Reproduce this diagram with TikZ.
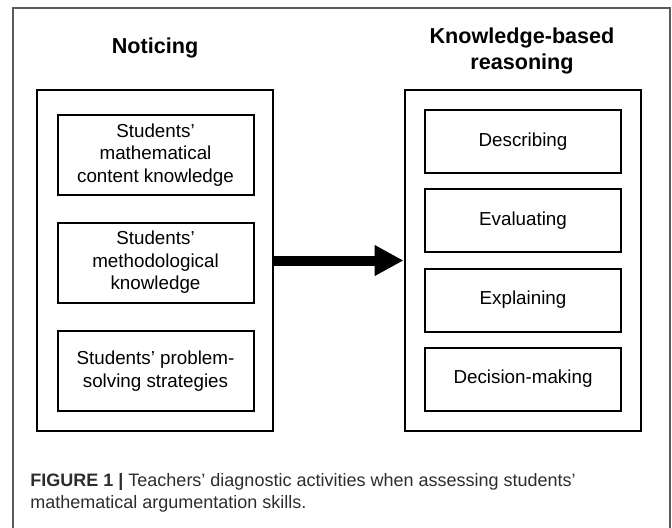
\documentclass[tikz,border=0pt]{standalone}
\usepackage{fontspec}
\setmainfont{Liberation Sans}
\usetikzlibrary{arrows.meta}

\definecolor{framegray}{RGB}{90,90,90}
\definecolor{captiongray}{RGB}{45,45,45}

\tikzset{
  outerbox/.style={draw, line width=1pt, minimum width=118pt, minimum height=170.5pt},
  itembox/.style={draw, line width=1pt, align=center, font=\fontsize{9.4}{11.3}\selectfont, minimum width=98pt, inner sep=1pt},
  heading/.style={align=center, font=\fontsize{10.8}{13}\selectfont\bfseries},
}

\begin{document}
\begin{tikzpicture}[x=0.5pt, y=-0.5pt]
			\useasboundingbox (0, 0) rectangle (672, 527);
			\draw[framegray, line width=0.75pt] (13, 540) -- (13, 8) -- (670, 8) -- (670, 540);
			
			\node[heading] (head1) at (155, 48) {Noticing};
			\node[heading] (head2) at (522, 51) {Knowledge-based\\reasoning};
			
			\node[outerbox] (noticing) at (155, 260.5) {};
			\node[outerbox] (reasoning) at (522.5, 260.5) {};
			
			\node[itembox, minimum height=40pt] (content) at (155.5, 155) {Students'\\mathematical\\content knowledge};
			\node[itembox, minimum height=40pt] (method) at (155.5, 262.5) {Students'\\methodological\\knowledge};
			\node[itembox, minimum height=40pt] (strategy) at (155.5, 371) {Students' problem-\\solving strategies};
			
			\node[itembox, minimum height=31.5pt] (describe) at (523, 141.5) {Describing};
			\node[itembox, minimum height=31.5pt] (evaluate) at (523, 220.5) {Evaluating};
			\node[itembox, minimum height=31.5pt] (explain) at (523, 300) {Explaining};
			\node[itembox, minimum height=31.5pt] (decide) at (523, 379) {Decision-making};
			
			\draw[line width=5pt, -{Triangle[length=14.5pt, width=14.5pt]}] (noticing.east) -- (reasoning.west);
			
			\node[anchor=west, align=left, inner sep=0pt, text=captiongray, font=\fontsize{9}{11.2}\selectfont] (caption) at (30, 493)
			  {\textbf{FIGURE 1 |} Teachers' diagnostic activities when assessing students'\\mathematical argumentation skills.};
		\end{tikzpicture}
\end{document}
